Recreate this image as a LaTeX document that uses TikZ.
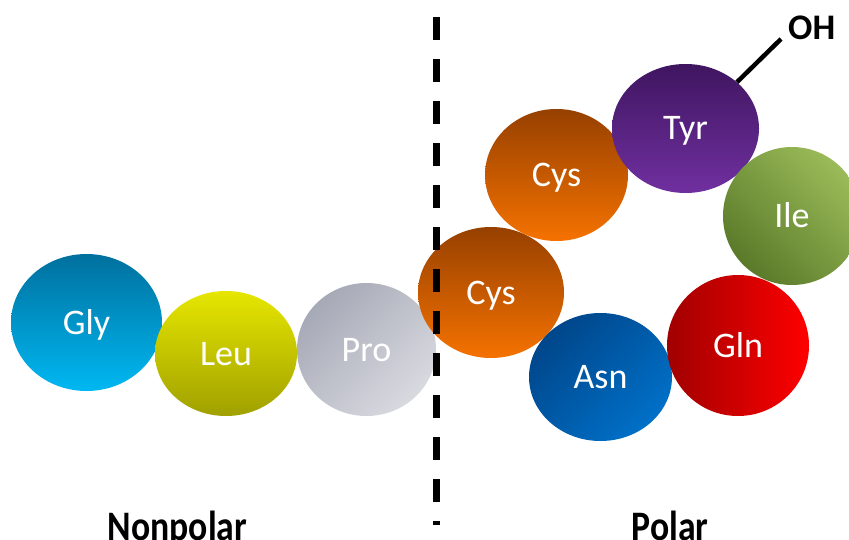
\documentclass[tikz,border=0pt]{standalone}
\usepackage{fontspec}
\setmainfont{Carlito}
\usetikzlibrary{shapes.geometric}
\definecolor{glyA}{HTML}{00709E}\definecolor{glyB}{HTML}{00B8F2}
\definecolor{leuA}{HTML}{E6E600}\definecolor{leuB}{HTML}{A6A600}\definecolor{leuC}{HTML}{A0A000}
\definecolor{proA}{HTML}{A6A9B6}\definecolor{proB}{HTML}{D9DAE0}
\definecolor{cysA}{HTML}{964000}\definecolor{cysB}{HTML}{F57200}
\definecolor{tyrA}{HTML}{3F1560}\definecolor{tyrB}{HTML}{7030A0}
\definecolor{ileA}{HTML}{5A7A2A}\definecolor{ileB}{HTML}{9BBB59}
\definecolor{glnA}{HTML}{A00000}\definecolor{glnB}{HTML}{FF0000}
\definecolor{asnA}{HTML}{00468A}\definecolor{asnB}{HTML}{0070C8}
\tikzset{
  acid/.style n args={2}{ellipse, inner sep=0pt, minimum width=#1, minimum height=#2,
    text=white, font=\fontsize{36}{40}\selectfont, text height=23pt, text depth=0pt},
  sidelabel/.style={font=\bfseries\fontsize{42}{46}\selectfont, anchor=base, xscale=0.85, inner sep=0pt},
}
\begin{document}
\begin{tikzpicture}[x=1pt,y=1pt]
\clip (0,0) rectangle (849,539);
\fill[white] (0,0) rectangle (849,539);
\node[acid={151pt}{137pt}, top color=glyA, bottom color=glyB] (gly) at (86.5,216.5) {Gly};
\node[acid={142pt}{125pt}, top color=leuA, middle color=leuB, bottom color=leuC] (leu) at (226,185.5) {Leu};
\node[acid={139pt}{133pt}, top color=proA, bottom color=proB, shading angle=45] (pro) at (366.5,189.5) {Pro};
\node[acid={143pt}{132pt}, top color=cysA, bottom color=cysB] (cysu) at (556.5,364) {Cys};
\node[acid={147pt}{129pt}, top color=tyrA, bottom color=tyrB] (tyr) at (685.5,410.5) {Tyr};
\node[acid={146pt}{131pt}, top color=cysA, bottom color=cysB] (cysl) at (491,246.5) {Cys};
\node[acid={143pt}{128pt}, top color=asnA, bottom color=asnB, shading angle=45] (asn) at (600.5,162) {Asn};
\node[acid={142pt}{141pt}, left color=glnA, right color=glnB] (gln) at (738,193.5) {Gln};
\node[acid={138pt}{138pt}, top color=ileB, bottom color=ileA, shading angle=-45] (ile) at (792,323) {Ile};
\node[font=\bfseries\fontsize{36}{40}\selectfont, anchor=base west, inner sep=0pt] (oh) at (788,499) {OH};
\coordinate (ohend) at (781,500);
\draw[line width=4.5pt] (tyr.42) -- (ohend);
\coordinate (dtop) at (436,522);
\coordinate (dbot) at (436,14);
\draw[line width=7pt, dash pattern=on 23pt off 19pt] (dtop) -- (dbot);
\node[sidelabel] (np) at (177.5,-1) {Nonpolar};
\node[sidelabel] (pl) at (670,-1) {Polar};
\end{tikzpicture}
\end{document}
